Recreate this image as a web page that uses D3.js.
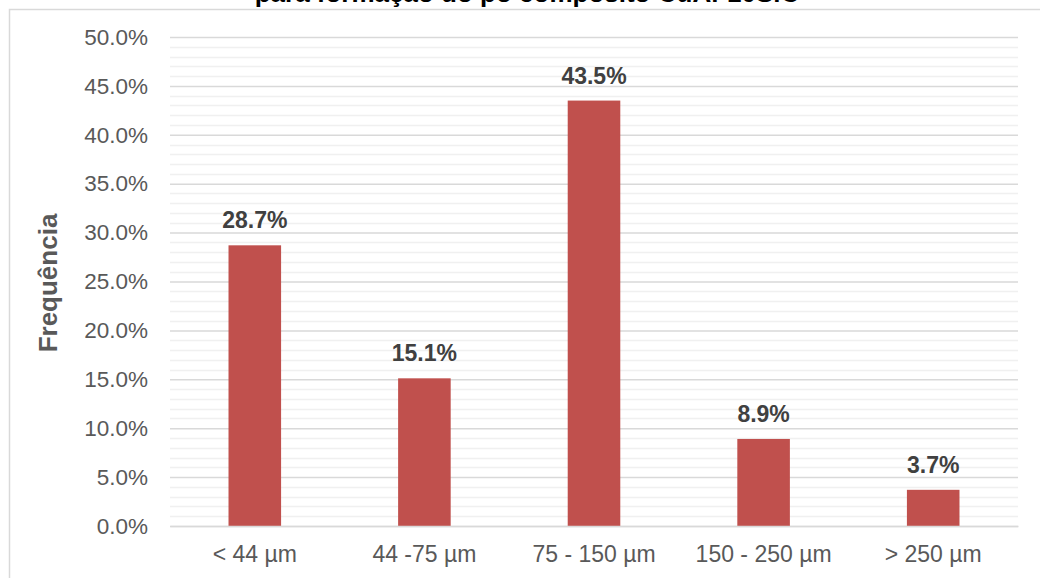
<!DOCTYPE html>
<html>
<head>
<meta charset="utf-8">
<script src="https://cdn.jsdelivr.net/npm/d3@7"></script>
<style>
  html, body { margin: 0; padding: 0; background: #fff; }
  svg { display: block; font-family: "Liberation Sans", Arial, sans-serif; }
</style>
</head>
<body>
<svg id="chart" width="1040" height="578"></svg>
<script>
// Particle size distribution
const categories = ["< 44 µm", "44 -75 µm", "75 - 150 µm", "150 - 250 µm", "> 250 µm"];
const frequencies = [28.7, 15.1, 43.5, 8.9, 3.7];
const majorTicks = [0, 5, 10, 15, 20, 25, 30, 35, 40, 45, 50];
const minorTicks = d3.range(0, 51, 1).filter(v => v % 5 !== 0);
const chartTitle = "para formação do pó compósito CuAl-10SiC";
const yTitle = "Frequência";

const svg = d3.select("#chart");
const margin = { left: 170, right: 1018, top: 37, bottom: 526 };
const FONT = "Liberation Sans, Arial, sans-serif";

const x = d3.scaleBand()
  .domain(categories)
  .range([margin.left, margin.right])
  .paddingInner(0.69)
  .paddingOuter(0.345);

const y = d3.scaleLinear()
  .domain([0, 50])
  .range([margin.bottom, margin.top]);

// title (sits above the frame, mostly outside the canvas)
svg.append("text")
  .attr("x", 527).attr("y", 2)
  .attr("text-anchor", "middle")
  .attr("font-size", 26)
  .attr("font-weight", "bold")
  .attr("fill", "#000")
  .text(chartTitle);

// outer chart border
svg.append("rect")
  .attr("x", 9.5).attr("y", 9.5)
  .attr("width", 1040).attr("height", 600)
  .attr("fill", "#fff")
  .attr("stroke", "#d9d9d9")
  .attr("stroke-width", 1.5);

// minor gridlines
svg.append("g")
  .selectAll("line")
  .data(minorTicks)
  .join("line")
  .attr("x1", margin.left).attr("x2", margin.right)
  .attr("y1", d => Math.round(y(d)) + 0.5)
  .attr("y2", d => Math.round(y(d)) + 0.5)
  .attr("stroke", "#f0f0f0")
  .attr("stroke-width", 1.5);

// major gridlines and y labels
const yAxis = d3.axisLeft(y)
  .tickValues(majorTicks)
  .tickFormat(d => d.toFixed(1) + "%")
  .tickSize(-(margin.right - margin.left))
  .tickPadding(22);

const gy = svg.append("g")
  .attr("transform", `translate(${margin.left},0)`)
  .call(yAxis);
gy.select(".domain").remove();
gy.selectAll(".tick line")
  .attr("stroke", "#d9d9d9")
  .attr("stroke-width", 1.5);
gy.selectAll(".tick text")
  .attr("font-size", 22.5)
  .attr("fill", "#595959")
  .attr("font-family", FONT);

// bars
svg.append("g")
  .selectAll("rect")
  .data(frequencies)
  .join("rect")
  .attr("x", (d, i) => x(categories[i]))
  .attr("y", d => y(d))
  .attr("width", x.bandwidth())
  .attr("height", d => y(0) - y(d))
  .attr("fill", "#c0504d");

// value labels
svg.append("g")
  .selectAll("text")
  .data(frequencies)
  .join("text")
  .attr("x", (d, i) => x(categories[i]) + x.bandwidth() / 2)
  .attr("y", d => y(d) - 17)
  .attr("text-anchor", "middle")
  .attr("font-size", 23)
  .attr("font-weight", "bold")
  .attr("fill", "#404040")
  .text(d => d.toFixed(1) + "%");

// x axis
const xAxis = d3.axisBottom(x).tickSize(0).tickPadding(20);
const gx = svg.append("g")
  .attr("transform", `translate(0,${margin.bottom})`)
  .call(xAxis);
gx.select(".domain")
  .attr("stroke", "#d9d9d9")
  .attr("stroke-width", 1.5);
gx.selectAll(".tick text")
  .attr("font-size", 23)
  .attr("fill", "#595959")
  .attr("font-family", FONT);

// y axis title
svg.append("text")
  .attr("transform", `translate(57,283) rotate(-90)`)
  .attr("text-anchor", "middle")
  .attr("font-size", 26)
  .attr("font-weight", "bold")
  .attr("fill", "#595959")
  .text(yTitle);
</script>
</body>
</html>
